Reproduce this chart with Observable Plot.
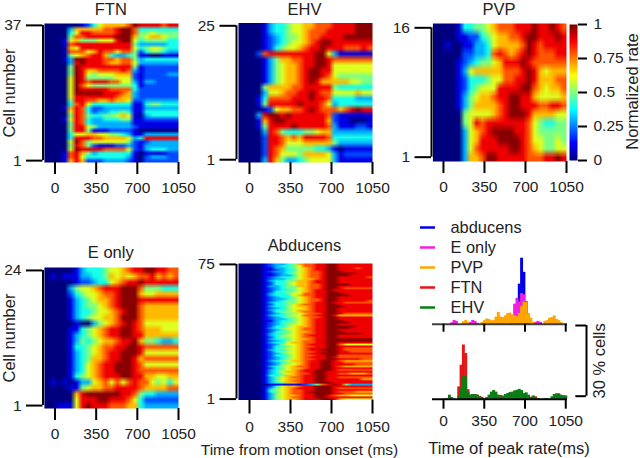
<!DOCTYPE html>
<html>
<head>
<meta charset="utf-8">
<script src="https://cdn.jsdelivr.net/npm/d3@7"></script>
<script src="https://cdn.jsdelivr.net/npm/@observablehq/plot@0.6"></script>
<style>
html,body{margin:0;padding:0;background:#fff;width:640px;height:458px;overflow:hidden}
#chart{position:relative;width:640px;height:458px}
#chart svg{position:absolute;overflow:visible;background:transparent}
</style>
</head>
<body>
<div id="chart"></div>
<script>
// Heat-map rows, top row first; values are tenths-like levels of the normalized rate. 23 time bins from -90 to 1050 ms.
const ftnRows = [
[0,0,0,0,0,0,1,2,4,6,7,7,7,7,8,10,9,9,9,9,8,9,9],
[0,0,0,0,3,7,7,7,7,7,8,8,9,10,10,8,4,4,4,4,4,4,4],
[0,0,0,0,4,6,9,9,8,8,8,8,9,10,10,8,5,5,6,5,5,5,5],
[0,0,0,0,5,8,8,9,9,9,9,9,10,10,10,7,5,6,7,7,6,5,5],
[0,0,0,1,6,7,5,5,5,6,6,6,9,10,10,6,4,5,5,5,5,4,4],
[0,0,0,1,8,9,9,9,9,9,9,9,9,9,9,5,3,3,3,3,3,4,4],
[0,0,0,0,7,6,9,9,9,9,9,9,9,9,9,6,4,5,6,6,5,4,4],
[0,0,0,1,8,8,8,6,7,9,8,8,6,8,8,5,2,4,5,5,4,3,3],
[0,0,0,0,5,6,7,8,9,9,7,4,3,3,4,5,1,1,0,0,1,1,1],
[0,0,0,1,3,10,10,9,9,9,8,8,7,8,8,5,3,4,4,4,4,4,4],
[0,0,0,0,3,9,10,9,9,9,8,7,7,8,8,6,3,3,3,3,3,3,3],
[0,0,0,0,5,10,9,9,9,9,9,9,9,9,9,5,1,2,2,2,2,2,2],
[0,0,0,0,5,10,9,7,7,8,8,8,8,9,8,3,1,2,2,2,2,2,2],
[0,0,0,0,5,10,9,6,5,6,6,6,7,7,7,2,1,2,2,2,2,3,3],
[0,0,0,0,6,10,9,5,5,5,5,5,6,6,6,2,1,2,2,2,2,2,2],
[0,0,0,0,6,10,9,8,9,9,9,8,8,6,6,3,1,3,3,2,2,2,2],
[0,0,0,0,6,10,8,6,5,5,5,5,5,5,5,4,1,2,2,2,2,2,2],
[0,0,0,0,6,10,9,9,9,9,9,8,8,8,8,4,2,2,2,2,2,2,2],
[0,0,0,0,6,10,10,10,10,10,9,9,9,8,7,3,2,2,2,2,2,2,2],
[0,0,0,0,6,9,9,9,9,9,9,9,8,7,7,3,2,2,2,2,2,2,2],
[0,0,0,0,5,9,9,8,8,7,7,8,7,7,6,2,2,3,3,3,3,3,3],
[0,0,0,0,4,8,9,6,4,4,4,4,4,4,4,1,1,4,5,5,4,4,4],
[0,0,0,1,7,9,8,4,2,2,3,3,3,3,3,1,1,3,3,3,3,3,3],
[0,0,0,0,6,9,8,4,2,3,3,4,4,5,4,1,1,4,4,4,4,4,4],
[0,0,0,0,5,9,8,5,4,4,5,5,6,7,6,1,0,3,4,4,4,4,4],
[0,0,0,1,6,9,8,4,3,3,4,4,4,5,5,1,1,2,2,2,2,2,2],
[0,0,0,0,5,9,8,4,3,3,3,3,3,3,3,1,1,1,1,1,1,1,1],
[0,0,0,0,5,9,9,6,5,3,3,3,3,3,3,2,1,1,1,1,1,1,1],
[0,0,0,0,5,9,9,5,1,1,1,2,2,2,2,1,0,0,0,0,0,0,0],
[0,0,0,0,4,6,6,7,7,6,6,5,5,4,3,1,1,3,3,3,3,3,3],
[0,0,0,0,4,9,9,9,8,8,7,7,7,7,6,3,4,9,9,9,9,9,9],
[0,0,0,0,6,10,8,5,6,6,6,6,6,6,5,2,1,2,3,3,3,3,3],
[0,0,0,0,5,9,8,5,2,1,1,1,2,2,3,2,1,3,3,3,3,3,3],
[0,0,0,0,6,10,9,9,9,9,8,8,8,8,6,2,1,3,4,4,4,3,3],
[0,0,0,1,8,9,7,5,3,4,4,4,4,4,4,1,0,1,1,1,1,2,2],
[0,0,0,1,8,9,6,4,4,4,4,4,4,4,3,1,0,2,3,3,3,2,2],
[0,0,0,1,7,9,7,2,2,2,3,3,3,3,2,1,0,2,2,2,2,2,2]
];
const ehvRows = [
[0,0,0,0,1,3,4,4,5,6,6,7,7,8,8,8,9,9,9,9,10,10,10],
[0,0,0,0,1,3,4,4,5,6,6,7,8,8,8,9,9,9,9,9,10,10,10],
[0,0,0,0,1,2,3,4,5,5,6,7,8,8,9,9,9,9,10,10,10,10,10],
[0,0,0,0,1,2,3,4,5,6,6,7,8,9,10,10,9,9,9,9,9,9,9],
[0,0,0,0,1,2,4,5,6,6,7,8,9,9,10,9,9,9,8,8,8,9,8],
[0,0,0,2,8,9,9,9,9,9,9,9,9,10,10,6,3,1,1,1,1,1,1],
[0,0,0,0,1,3,5,7,7,8,8,9,9,10,10,9,8,8,8,8,8,8,8],
[0,0,0,0,1,3,5,6,7,7,8,9,9,10,10,9,6,6,6,6,6,6,6],
[0,0,0,0,1,3,5,6,7,7,8,9,10,10,9,9,6,6,6,6,6,6,6],
[0,0,0,0,1,3,5,6,7,7,8,9,10,10,9,8,6,5,5,5,5,5,5],
[0,0,0,0,1,3,5,6,7,7,8,9,10,9,7,7,7,7,7,6,6,5,5],
[0,0,0,0,5,7,7,7,7,8,8,9,9,9,9,9,5,4,4,4,4,4,4],
[0,0,0,0,3,6,6,7,8,8,9,9,10,9,8,8,6,6,6,6,7,6,6],
[0,0,0,1,4,8,8,8,8,9,9,9,10,9,9,8,4,4,4,4,3,3,3],
[0,0,0,1,5,9,9,9,9,9,10,9,9,9,8,6,3,4,4,4,4,4,4],
[0,0,0,0,1,2,6,7,7,8,8,9,10,9,8,8,8,7,8,9,10,9,9],
[0,0,0,3,9,10,10,9,10,9,9,9,9,9,9,8,2,1,1,1,1,1,1],
[0,0,0,1,7,9,10,10,9,9,9,9,9,9,9,7,2,1,1,0,0,0,1],
[0,0,0,1,5,9,9,9,9,10,9,9,9,9,9,8,3,1,1,1,2,2,1],
[0,0,0,0,3,9,8,5,4,4,4,5,5,6,7,7,3,3,3,3,3,3,3],
[0,0,0,0,2,9,9,8,7,8,7,9,9,9,9,8,4,4,4,4,4,4,4],
[0,0,0,0,2,9,9,8,6,6,6,7,7,7,7,7,5,3,3,3,3,3,3],
[0,0,0,0,2,9,8,7,5,5,5,5,5,4,4,3,1,0,1,1,1,1,1],
[0,0,0,0,2,9,8,6,6,6,5,7,7,7,7,6,3,1,2,2,2,2,2],
[0,0,0,0,3,9,7,5,3,3,4,5,6,6,6,6,3,1,1,1,1,1,1]
];
const pvpRows = [
[0,0,0,0,1,4,4,5,5,6,7,8,8,8,9,9,9,10,9,9,10,9,8],
[0,0,0,0,1,1,2,2,4,5,6,7,7,8,8,9,10,10,9,9,9,10,9],
[0,0,1,0,0,1,1,3,3,4,6,7,7,7,7,8,10,9,8,9,9,9,9],
[0,0,0,0,0,2,2,3,3,4,8,9,8,7,8,9,10,9,8,8,8,9,9],
[0,0,0,0,1,2,3,4,5,5,6,7,9,9,9,10,9,8,8,8,8,8,8],
[0,0,0,0,1,3,6,7,7,7,7,7,8,8,8,9,10,9,7,6,7,7,7],
[0,0,0,0,1,2,4,4,4,5,6,6,8,8,9,9,10,9,7,7,7,8,8],
[0,0,0,0,1,2,4,5,6,6,6,9,9,9,9,10,10,8,7,6,7,7,8],
[0,0,0,0,1,3,5,6,7,7,8,9,9,10,10,9,9,7,6,6,6,6,7],
[0,0,0,0,1,3,5,7,7,7,7,8,9,10,10,9,9,9,8,8,9,9,8],
[0,0,0,0,0,5,6,6,6,6,7,8,9,10,10,10,9,7,7,7,7,6,6],
[0,0,0,0,0,5,6,9,8,9,9,9,9,9,9,9,8,6,5,4,4,5,5],
[0,0,0,0,0,3,6,7,8,9,10,10,10,10,9,9,8,6,5,5,5,5,5],
[0,0,0,0,0,3,6,7,9,9,9,10,10,10,10,9,8,6,6,5,5,6,5],
[0,0,0,0,0,3,6,8,9,9,9,9,9,10,10,9,8,7,6,5,5,6,6],
[0,0,0,0,0,3,7,7,8,10,10,9,9,9,9,9,8,8,8,9,9,10,9]
];
const eOnlyRows = [
[0,0,0,0,0,1,3,4,4,4,5,6,6,7,8,9,9,10,10,9,9,8,8],
[0,1,0,1,1,1,3,3,4,4,5,7,6,7,6,7,8,8,9,7,8,7,8],
[0,0,0,0,0,1,2,2,3,4,4,6,7,8,9,9,10,9,9,9,9,9,9],
[0,0,0,0,3,5,6,6,7,8,9,9,9,10,10,10,8,5,5,5,4,4,4],
[0,0,0,0,2,4,5,6,6,7,8,8,9,10,10,10,7,6,6,7,7,7,7],
[0,0,0,0,1,3,4,5,6,7,7,8,9,10,10,10,9,9,9,9,9,9,9],
[0,0,0,0,1,3,4,5,5,6,7,8,9,10,10,10,8,7,7,7,7,7,7],
[0,0,0,0,1,3,4,4,5,6,6,7,8,9,10,10,8,7,7,7,7,7,7],
[0,0,0,0,1,3,4,5,6,6,7,7,8,10,10,10,8,7,7,7,7,7,7],
[0,0,0,0,0,1,0,0,3,5,6,7,8,9,10,9,8,6,6,6,6,6,6],
[0,0,0,0,1,1,4,5,6,7,8,9,9,10,10,9,8,7,7,7,6,6,6],
[0,0,0,0,1,3,4,5,6,7,8,9,9,10,10,9,9,7,7,7,7,7,7],
[0,0,0,0,1,3,5,4,5,6,7,7,8,9,9,10,7,5,5,4,3,3,4],
[0,0,0,0,1,4,4,5,6,7,8,8,9,9,10,10,9,8,8,8,8,8,8],
[0,0,0,0,1,3,4,5,6,7,8,9,9,10,10,10,9,6,6,6,6,6,6],
[0,0,0,0,1,3,4,5,7,7,8,9,9,10,10,9,7,8,8,8,8,8,8],
[0,0,0,0,1,3,4,6,7,8,9,9,10,10,10,9,8,6,6,6,6,6,6],
[0,0,0,0,1,3,4,6,7,8,9,9,10,10,10,9,8,8,8,8,8,8,8],
[0,0,0,0,1,4,5,6,7,8,9,9,9,10,10,9,9,7,7,6,6,7,7],
[0,1,0,1,0,1,3,3,6,7,8,6,8,6,8,9,8,8,6,5,6,4,6],
[0,0,0,0,1,1,5,6,7,7,8,8,9,9,9,9,8,7,7,7,7,8,8],
[0,0,0,0,0,7,9,10,10,10,10,10,10,9,9,8,5,4,4,3,3,3,3],
[0,0,0,0,0,6,9,9,9,10,10,9,9,9,8,6,4,2,2,2,2,2,2],
[0,0,1,1,1,6,9,10,9,9,9,8,8,8,7,7,4,3,3,3,3,3,3]
];
const abducensRows = [
[0,0,0,0,1,2,3,3,4,5,7,8,8,9,9,10,10,9,9,9,9,9,9],
[0,0,0,0,1,2,3,4,4,5,6,8,8,9,9,10,10,9,9,9,9,9,9],
[0,0,0,0,1,1,3,3,4,5,6,7,8,9,9,10,10,9,9,9,8,9,9],
[0,0,0,0,1,1,2,3,4,4,6,7,8,9,9,10,10,9,9,9,9,9,9],
[0,0,0,0,1,2,3,3,4,5,6,7,8,8,9,10,10,10,9,9,9,9,9],
[0,0,0,0,1,1,2,3,4,5,6,7,8,8,9,10,10,10,10,10,9,9,9],
[0,0,0,0,1,1,2,3,3,4,6,7,8,8,9,10,10,10,10,9,9,9,9],
[0,0,0,0,1,2,3,4,4,5,6,7,8,8,9,10,10,9,9,9,9,9,8],
[0,0,0,0,1,2,3,3,4,5,6,7,7,8,9,10,10,9,9,9,9,9,9],
[0,0,0,0,1,3,4,4,5,5,7,7,8,9,9,10,10,9,9,9,9,9,9],
[0,0,0,0,1,2,4,4,5,6,7,7,8,9,9,10,10,9,9,9,9,9,9],
[0,0,0,0,1,2,4,4,5,6,7,7,8,8,9,10,10,10,10,9,9,9,9],
[0,0,0,0,1,3,3,4,5,5,7,7,8,8,9,10,10,9,9,9,9,9,9],
[0,0,0,0,1,2,3,4,5,5,6,7,8,8,9,10,10,9,8,8,8,8,8],
[0,0,0,0,1,2,3,4,4,5,6,7,8,9,9,10,9,9,9,9,9,9,9],
[0,0,0,0,1,2,4,4,5,5,6,7,8,9,9,10,10,9,9,9,9,9,9],
[0,0,0,0,1,3,4,4,5,6,6,8,8,9,9,10,10,10,9,9,9,9,9],
[0,0,0,0,1,3,4,4,4,6,7,8,8,9,9,10,10,10,10,9,9,9,9],
[0,0,0,0,1,2,3,4,4,5,6,7,8,9,9,10,10,9,9,9,9,9,9],
[0,0,0,0,1,2,3,3,4,5,6,7,8,8,9,10,10,9,9,9,9,9,9],
[0,0,0,0,1,2,3,4,5,5,6,7,8,8,9,10,10,9,9,9,9,9,8],
[0,0,0,0,1,3,4,4,5,5,6,7,8,9,9,10,9,9,8,8,8,8,8],
[0,0,0,0,1,2,4,4,5,6,7,8,8,9,9,10,10,9,9,9,9,9,9],
[0,0,0,0,1,3,4,4,5,6,7,7,8,9,9,10,10,10,9,9,9,9,9],
[0,0,0,0,1,2,3,4,5,6,6,7,8,9,9,10,10,9,9,9,9,9,9],
[0,0,0,0,1,3,4,4,5,6,7,7,8,9,9,10,10,9,9,9,9,9,9],
[0,0,0,0,1,2,4,5,5,6,7,8,8,9,9,10,10,9,9,9,9,9,9],
[0,0,0,0,1,2,3,4,5,5,6,7,8,8,9,10,10,9,8,8,8,8,8],
[0,0,0,0,1,3,4,4,5,6,6,8,8,9,9,10,9,7,7,7,7,7,7],
[0,0,0,0,1,2,3,4,5,5,6,7,8,8,9,10,10,9,9,9,9,9,9],
[0,0,0,0,1,2,3,3,4,5,6,7,8,9,9,10,10,9,9,9,9,9,9],
[0,0,0,0,1,1,3,4,4,5,6,7,8,9,9,10,10,10,9,9,9,9,9],
[0,0,0,0,1,2,3,4,5,5,6,7,8,9,9,10,10,10,10,9,9,9,9],
[0,0,0,0,1,2,3,4,5,6,6,7,8,9,9,10,10,9,9,9,9,9,9],
[0,0,0,0,1,2,4,4,5,6,7,7,8,9,9,10,10,10,10,10,9,9,9],
[0,0,0,0,1,3,4,5,6,6,7,8,8,9,9,10,10,10,10,9,9,9,9],
[0,0,0,0,1,2,3,4,5,6,7,8,8,9,9,10,10,9,9,9,9,9,9],
[0,0,0,0,1,2,4,5,5,6,7,7,8,9,9,10,10,10,9,9,9,9,9],
[0,0,0,0,1,3,4,4,5,6,7,8,8,9,9,10,10,10,10,10,10,9,9],
[0,0,0,0,1,3,4,5,6,6,7,8,9,9,9,10,10,9,9,9,9,9,9],
[0,0,0,0,1,2,4,5,5,6,7,8,8,9,9,10,10,9,9,9,9,9,9],
[0,0,0,0,1,3,4,4,5,6,7,7,8,9,9,10,10,10,10,10,10,10,10],
[0,0,0,0,1,2,3,4,5,6,7,8,8,9,9,10,10,10,10,10,10,10,10],
[0,0,0,0,1,3,4,4,6,7,7,8,8,9,9,10,10,9,9,9,9,9,9],
[0,0,0,0,1,2,3,5,6,6,7,8,9,9,9,10,10,8,6,6,6,6,6],
[0,0,0,0,1,2,4,4,5,6,7,8,8,9,9,10,10,9,9,9,9,9,9],
[0,0,0,0,1,2,4,5,6,6,7,8,9,9,9,10,10,9,8,8,8,8,8],
[0,0,0,0,1,3,4,4,5,6,7,8,9,9,10,10,10,9,8,8,8,8,8],
[0,0,0,0,1,2,4,5,6,6,7,8,8,9,9,10,10,9,9,8,8,8,8],
[0,0,0,0,1,2,3,4,5,6,7,8,9,9,10,10,10,9,9,9,9,9,9],
[0,0,0,0,1,2,4,4,5,6,7,8,8,9,9,10,10,8,8,8,8,8,8],
[0,0,0,0,1,2,3,4,5,6,7,8,9,9,9,10,9,8,8,8,8,8,8],
[0,0,0,0,1,2,3,4,5,6,7,8,8,9,9,10,10,9,9,9,9,8,8],
[0,0,0,0,1,3,4,5,6,7,7,8,9,9,10,10,9,8,7,7,7,7,7],
[0,0,0,0,1,2,3,4,5,6,7,8,9,9,10,10,9,9,8,8,8,8,8],
[0,0,0,0,1,2,3,5,6,6,7,8,9,9,10,10,9,9,9,9,8,8,8],
[0,0,0,0,1,3,4,5,6,7,8,8,9,9,10,10,9,8,7,7,7,7,7],
[0,0,0,0,1,2,4,5,6,7,7,8,9,9,10,10,9,9,9,9,9,9,9],
[0,0,0,0,1,3,4,5,6,7,8,9,9,10,10,10,9,8,8,8,8,8,8],
[0,0,0,0,1,3,4,6,7,7,8,9,9,10,10,9,9,9,9,9,9,9,9],
[0,0,0,0,1,3,4,5,6,7,8,8,9,10,10,9,9,8,8,7,7,7,8],
[0,0,0,0,1,4,4,5,7,7,8,9,9,10,10,9,9,9,9,9,9,9,9],
[0,0,0,0,1,3,5,6,7,8,8,9,9,10,10,9,9,8,8,8,8,8,8],
[0,0,0,0,1,3,4,6,7,7,8,9,9,10,10,9,9,9,9,9,9,7,7],
[0,0,0,0,1,3,5,6,7,8,8,9,9,10,10,9,9,9,9,9,9,9,9],
[0,0,0,0,1,3,4,5,7,7,8,9,9,10,10,10,9,9,9,9,9,9,9],
[0,0,0,0,0,1,1,1,1,1,1,2,3,5,8,9,10,9,5,3,3,3,3],
[0,0,0,0,1,2,4,6,7,7,8,9,9,10,10,10,9,9,9,9,9,9,9],
[0,0,0,0,1,3,5,6,7,8,9,9,9,10,10,10,9,8,8,8,8,8,8],
[0,0,0,0,1,4,5,6,7,8,8,9,9,10,10,10,9,9,9,9,9,9,9],
[0,0,0,0,1,4,5,6,7,8,8,9,10,10,10,10,9,8,8,8,7,7,7],
[0,0,0,0,1,3,5,6,7,8,8,9,9,10,10,10,9,9,8,8,8,8,8],
[0,0,0,0,1,3,5,6,7,7,8,9,9,10,10,9,8,7,7,6,6,6,6],
[0,0,0,0,1,3,5,6,7,8,8,9,9,10,10,9,9,9,9,9,9,9,9],
[0,0,0,0,1,3,5,6,7,7,8,9,9,9,10,10,9,7,6,6,6,6,6]
];

// Histogram of peak times: percent of cells, 20 ms bins starting at 5 ms.
const abducensHist = [0,0,0,0,0,0,0,0,0,0,0,0,0,0,0,0,0,0,0,0,0,0,0,0,0,0,0,0,0,0,0,0,17,28,22,9.5,1.3,0,0,0,0,0.7,0,0,0,0,0,0,0,0,0,0,0];
const eOnlyHist = [0,0,0,0.6,1.6,1.2,0,0,0,0,0,0.8,1.6,1.2,0.4,0,0,0,0,0,0,0,0,0,0,0,0,0,0,3.5,8.5,11,9.5,13,12.5,8,0,0,0,0.8,1.2,0.8,0,0,0,0,0,0,0,0,0,0,0];
const pvpHist = [0,0,0,0,0,0,0,0,1,1.6,0.8,0,0,0,0,0,0.7,1.5,2.2,2,1.5,1.5,3,5,3,2.8,3.5,4.5,4.7,4,3.5,3.2,4.5,7.5,9.3,9.3,4.5,2.5,0.8,0,0,0,0,1.2,1.5,2.5,2.8,3.5,2,1.5,0.7,0,0];
const ftnHist = [0,0,0,0,0,0,5.2,14.4,23,19.4,4,1.7,2,2,1.7,1.2,0.8,0,0.6,0,0,0,0,0,1.6,0,0,0,0,0,0,0,0,0,0,0,0,0.8,1.3,1,0.3,0,0,0,0,0,0,0,0,0,0,0,0];
const ehvHist = [0,0.3,1.7,0.7,0,0,1,4.5,9.5,9.5,3,1.7,2,2,1.7,1,0.4,0,0.6,1.7,3,3.7,3,1.7,1,1.3,2,2.4,2.8,3,3.5,3.8,4.2,3.7,2.4,2.7,1.7,0.7,1.3,0.3,0.3,0,0,0.3,0.3,0,1,2,2.3,2.3,1.7,1.5,1.4];

const timeTicks = [0,350,700,1050];
const colorTicks = [0,0.25,0.5,0.75,1];
const legendNames = ["abducens","E only","PVP","FTN","EHV"];
const legendColors = ["#0000e6","#f01ee6","#ffa500","#e61414","#0a7d14"];
const jetStops = [0,0.125,0.375,0.625,0.875,1];
const jetColors = ["#00007f","#0000ff","#00ffff","#ffff00","#ff0000","#7f0000"];
const colorLevels = d3.range(100,-1,-1).map(d => d/100);
const levelsPerUnit = 10.1;

const font = '"Liberation Sans", Arial, sans-serif';
const ink = "#222";
const chart = document.getElementById("chart");
const jet = {type:"linear", domain:jetStops, range:jetColors, clamp:true};

function place(fig, left, top){
  fig.style.left = left + "px";
  fig.style.top = top + "px";
  chart.appendChild(fig);
}
const baseStyle = {fontFamily:font, fontSize:"15px", color:ink, background:"transparent", overflow:"visible"};

function heat({title, rows, frame:[l,r,t,b], xMin, heatMin, ml, mt, mb, ylabel, tick, bottomLabel, pad=7, titleDy}){
  const n = rows.length;
  const marks = [
    Plot.raster(rows.flat().map(v=>v/levelsPerUnit), {width:rows[0].length, height:n, x1:heatMin, x2:1050, y1:n+.5, y2:.5, fill:d=>d}),
    Plot.axisX({ticks:timeTicks, tickSize:tick, strokeWidth:2, tickPadding:pad, fontSize:15.5, fill:ink, stroke:"#000", tickFormat:d=>String(d), label:null}),
    Plot.axisY({ticks:[1,n], tickSize:16.5, strokeWidth:2, tickPadding:5, fontSize:15.5, fill:ink, stroke:"#000", tickFormat:d=>String(d), label:null}),
    Plot.ruleX([xMin], {y1:1, y2:n, strokeWidth:2, stroke:"#000"}),
    Plot.text([title], {frameAnchor:"top", dy:titleDy, fontSize:16.5, fill:ink})
  ];
  if (ylabel) marks.push(Plot.text([ylabel], {frameAnchor:"left", textAnchor:"middle", rotate:-90, dx:-33.5, fontSize:16.5, fill:ink}));
  if (bottomLabel) marks.push(Plot.text([bottomLabel], {frameAnchor:"bottom", dx:-5, dy:mb-4, fontSize:15.5, fill:ink}));
  const fig = Plot.plot({
    width:(r-l)+ml+20, height:(b-t)+mt+mb,
    marginLeft:ml, marginRight:20, marginTop:mt, marginBottom:mb,
    x:{domain:[xMin,1050], axis:null}, y:{domain:[.5,n+.5], axis:null},
    color:jet, style:baseStyle, marks
  });
  place(fig, l-ml, t-mt);
}

heat({title:"FTN", rows:ftnRows, frame:[42.5,178,23,162], xMin:-102, heatMin:-90, ml:42.5, mt:23, mb:30, ylabel:"Cell number", tick:12, titleDy:-20});
heat({title:"EHV", rows:ehvRows, frame:[236,372,22.5,162], xMin:-111, heatMin:-94, ml:40, mt:22.5, mb:30, tick:12, titleDy:-20});
heat({title:"PVP", rows:pvpRows, frame:[431,566,23,161], xMin:-102, heatMin:-90, ml:40, mt:23, mb:30, tick:12, titleDy:-20});
heat({title:"E only", rows:eOnlyRows, frame:[42.5,178,267,408], xMin:-102, heatMin:-90, ml:42.5, mt:27, mb:50, ylabel:"Cell number", tick:12, titleDy:-21});
heat({title:"Abducens", rows:abducensRows, frame:[236,372,263,399.5], xMin:-111, heatMin:-94, ml:40, mt:27, mb:58.5, tick:14, bottomLabel:"Time from motion onset (ms)", titleDy:-24});

// Colour bar
place(Plot.plot({
  width:70, height:136+20, marginLeft:0, marginRight:62, marginTop:10, marginBottom:10,
  x:{domain:[0,1], axis:null}, y:{domain:[0,1], axis:null}, color:jet, style:baseStyle,
  marks:[
    Plot.raster(colorLevels, {width:1, height:colorLevels.length, x1:0, x2:1, y1:1, y2:0, fill:d=>d}),
    Plot.axisY({anchor:"right", ticks:colorTicks, tickSize:9, strokeWidth:2, stroke:"#000", fill:ink, tickPadding:7, fontSize:15.5, tickFormat:d=>String(d), label:null}),
    Plot.text(["Normalized rate"], {frameAnchor:"right", textAnchor:"middle", rotate:-90, dx:55, dy:-1, fontSize:16.5, fill:ink})
  ]
}), 569, 14);

// Histograms
function hist({series, colors, top, tick, labels, label}){
  const binIndex = series[0].map((_,i)=>i);
  const fig = Plot.plot({
    width:150, height:70.7+10+50, marginLeft:11, marginRight:4, marginTop:10, marginBottom:50,
    x:{domain:[-94.5,1065], axis:null}, y:{domain:[0,30], axis:null}, style:baseStyle,
    marks:[
      ...series.map((vals,k)=>Plot.rectY(binIndex.filter(i=>vals[i]>0), {x1:i=>5+20*i, x2:i=>25+20*i, y1:0, y2:i=>vals[i], fill:colors[k], insetLeft:-.3, insetRight:-.3})),
      Plot.ruleY([0], {stroke:"#000", strokeWidth:2, strokeOpacity:labels ? 1 : .75}),
      Plot.axisX({ticks:timeTicks, tickSize:tick, strokeWidth:2, stroke:"#000", fill:ink, tickPadding:6, fontSize:15.5, label:null, tickFormat:labels ? d=>String(d) : ()=>""}),
      ...(label ? [Plot.text([label], {frameAnchor:"bottom", dx:9, dy:55, fontSize:16.6, fill:ink})] : [])
    ]
  });
  place(fig, 432-11, top-80.7);
}
hist({series:[abducensHist,eOnlyHist,pvpHist], colors:["#0000e6","#f01ee6","#ffa500"], top:324, tick:8});
hist({series:[ftnHist,ehvHist], colors:["#e61414","#0a7d14"], top:399, tick:10, labels:true, label:"Time of peak rate(ms)"});

// 30 % scale bar
place(Plot.plot({
  width:40, height:70.7+10, marginLeft:11, marginRight:28, marginTop:5, marginBottom:5,
  x:{domain:[0,1], axis:null}, y:{domain:[0,30], axis:null}, style:baseStyle,
  marks:[
    Plot.ruleX([0], {y1:0, y2:30, strokeWidth:2, stroke:"#000"}),
    Plot.axisY({ticks:[0,30], tickSize:10.7, strokeWidth:2, stroke:"#000", tickFormat:()=>"", label:null}),
    Plot.text(["30 % cells"], {frameAnchor:"right", textAnchor:"middle", rotate:-90, dx:12, fontSize:16.5, fill:ink})
  ]
}), 574.7, 320);

// Legend
place(Plot.plot({
  width:110, height:100, marginLeft:0, marginRight:95, marginTop:8, marginBottom:10,
  x:{domain:[0,1], axis:null}, y:{type:"point", domain:legendNames, padding:0, axis:null},
  style:baseStyle,
  marks:[
    Plot.ruleY(legendNames, {x1:0, x2:1, y:d=>d, stroke:d=>legendColors[legendNames.indexOf(d)], strokeWidth:2.5}),
    Plot.text(legendNames, {x:1, y:d=>d, text:d=>d, textAnchor:"start", dx:15, fontSize:16.4, fill:ink})
  ]
}), 420, 218);
</script>
</body>
</html>
